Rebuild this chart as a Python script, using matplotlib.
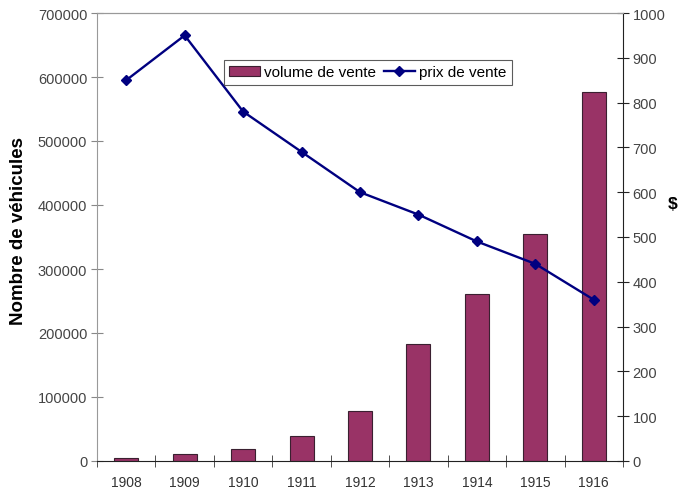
import matplotlib
matplotlib.use("Agg")
import matplotlib.pyplot as plt
import numpy as np

plt.rcParams['font.family'] = ['Liberation Sans', 'DejaVu Sans']

years = ["1908", "1909", "1910", "1911", "1912", "1913", "1914", "1915", "1916"]
volume = [5000, 11500, 18500, 39500, 78500, 183000, 261000, 355000, 577000]
prix = [850, 950, 780, 690, 600, 550, 490, 440, 360]

bar_color = '#993366'
line_color = '#000080'

fig = plt.figure(figsize=(6.8, 4.89), dpi=100)
ax = fig.add_axes([97/680, 1 - 462/489, (623-97)/680, (462-14)/489])
x = np.arange(len(years))

ax.bar(x, volume, width=0.41, color=bar_color, edgecolor='#3a2030', linewidth=0.8,
       label='volume de vente', zorder=2)
ax.set_xlim(-0.5, len(years) - 0.5)
ax.set_ylim(0, 700000)
ax.set_yticks(np.arange(0, 700001, 100000))
ax.set_xticks(x)
ax.set_xticklabels(years)
ax.set_xticks(np.arange(-0.5, len(years), 1), minor=True)
ax.tick_params(axis='x', which='major', length=0, pad=10, labelsize=10, labelcolor='#333333')
ax.tick_params(axis='x', which='minor', direction='inout', length=8, color='#333333')
ax.tick_params(axis='y', direction='inout', length=8, color='#888888', labelsize=10.5,
               labelcolor='#444444', pad=3)
ax.set_ylabel('Nombre de véhicules', fontsize=13.5, fontweight='bold')
ax.yaxis.set_label_coords(-70 / 526, 1 - (231 - 14) / 448)
for s in ['left', 'top']:
    ax.spines[s].set_color('#999999')
ax.spines['bottom'].set_color('#222222')
ax.spines['right'].set_visible(False)

ax2 = ax.twinx()
ax2.plot(x, prix, color=line_color, marker='D', markersize=5.5, linewidth=1.7,
         label='prix de vente', zorder=3)
ax2.set_ylim(0, 1000)
ax2.set_yticks(np.arange(0, 1001, 100))
ax2.tick_params(axis='y', direction='inout', length=8, color='#222222', labelsize=10.5,
                labelcolor='#444444', pad=3)
ax2.spines['right'].set_color('#222222')
ax2.spines['top'].set_color('#999999')
ax2.spines['left'].set_visible(False)
ax2.spines['bottom'].set_visible(False)
ax2.set_ylabel('$', fontsize=12.5, fontweight='bold', rotation=0, va='center', ha='center')
ax2.yaxis.set_label_coords((673 - 97) / 526, 1 - (205 - 14) / 448)

h1, l1 = ax.get_legend_handles_labels()
h2, l2 = ax2.get_legend_handles_labels()
leg = ax2.legend(h1 + h2, l1 + l2, ncol=2, loc='upper left',
                 bbox_to_anchor=((224-97)/526, 1 - (61-14)/448),
                 fontsize=11, frameon=True, fancybox=False, edgecolor='#333333',
                 borderpad=0.35, handlelength=2.0, handletextpad=0.3, columnspacing=0.5,
                 borderaxespad=0)
leg.get_frame().set_linewidth(0.8)

fig.savefig('out.png', dpi=100)
